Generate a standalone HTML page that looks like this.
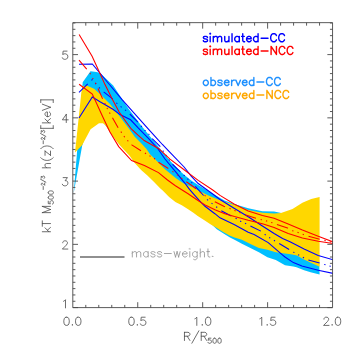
<!DOCTYPE html>
<html><head><meta charset="utf-8"><title>plot</title><style>html,body{margin:0;padding:0;background:#fff;font-family:"Liberation Sans",sans-serif}svg{display:block}</style></head><body>
<svg width="354" height="354" viewBox="0 0 354 354">
<rect width="354" height="354" fill="#fff"/>
<defs><clipPath id="c"><rect x="72.8" y="22.6" width="260.1" height="285.0"/></clipPath></defs>
<g clip-path="url(#c)">
<polygon points="82.7,82.3 90.5,71.3 96.5,72.0 100.0,73.0 113.2,85.5 128.5,108.7 141.2,125.6 149.7,136.0 159.5,148.0 170.0,160.8 178.5,169.8 184.1,174.7 191.2,180.4 198.2,185.0 212.4,193.6 224.5,200.6 235.0,204.3 248.2,208.3 262.4,211.3 274.1,211.4 281.2,212.9 300.0,235.0 319.1,260.0 319.6,274.6 310.6,272.3 304.1,270.2 296.5,267.3 293.4,266.5 285.0,265.2 275.8,259.9 267.4,257.2 258.9,252.3 250.4,248.0 241.9,243.8 234.5,239.8 230.0,237.4 223.1,233.2 216.8,229.2 212.3,225.0 200.0,212.0 180.0,200.0 150.0,172.0 120.0,145.0 100.0,118.0 90.0,122.0 82.2,145.5 73.7,193.0" fill="#00bfff"/>
<polygon points="81.3,93.0 82.4,86.0 86.7,85.4 94.0,88.7 100.0,94.0 110.0,104.0 119.0,115.5 128.5,128.0 134.5,136.5 140.0,142.0 146.5,149.0 150.0,154.2 158.3,162.6 165.0,169.3 176.3,178.5 184.2,183.8 192.0,187.1 200.5,191.6 209.0,195.8 217.4,199.3 224.8,201.8 234.7,205.0 248.2,209.9 262.4,212.8 274.1,213.6 281.0,212.9 292.5,209.1 302.4,202.7 311.2,199.1 319.6,197.0 319.6,266.7 311.0,262.8 304.0,259.5 297.0,255.5 290.8,254.3 285.0,253.4 275.8,252.2 267.4,249.7 258.9,247.9 250.4,243.9 241.9,239.8 234.5,237.6 230.0,235.7 223.1,231.9 216.8,228.0 210.4,224.2 204.0,220.0 197.7,216.0 193.0,212.6 188.1,209.3 181.8,205.3 175.4,201.9 169.1,196.9 162.7,190.6 160.1,188.3 153.8,181.7 147.4,175.5 141.1,170.0 134.7,163.0 131.5,158.4 129.8,156.1 123.4,149.2 117.1,142.1 110.7,133.2 105.6,125.6 103.0,123.3 99.0,123.2 90.6,129.3 82.1,145.3 75.0,152.4" fill="#ffd700"/>
<polyline points="79.0,64.3 92.3,64.0 109.0,84.0 122.1,99.6 134.1,113.2 148.2,128.9 155.0,136.4 162.4,144.5 170.0,152.3 184.1,167.0 191.2,176.1 198.2,183.5 212.4,193.8 220.0,199.5 234.1,208.3 248.2,216.8 262.4,226.0 274.1,233.5 282.6,238.5 290.0,241.8 304.1,249.0 318.2,255.4 333.4,259.9" fill="none" stroke="#0000ff" stroke-width="1.08"/>
<polyline points="79.0,118.0 92.3,97.0 100.0,101.8 112.9,109.2 120.0,114.6 130.6,119.8 138.4,128.2 148.2,138.1 158.0,149.0 165.0,159.0 176.3,172.7 184.2,182.3 189.5,189.4 195.0,195.6 199.4,200.7 205.0,206.3 214.9,213.7 220.0,217.8 234.1,224.5 248.2,232.3 254.1,234.5 268.2,242.6 282.4,254.8 285.0,257.0 293.4,262.6 301.9,266.0 318.2,270.2 333.4,273.5" fill="none" stroke="#0000ff" stroke-width="1.08"/>
<path d="M79.00 92.40 L87.76 83.90 M91.45 80.33 L92.30 79.50 L92.37 79.59 M95.20 83.07 L96.03 84.08 M98.99 87.43 L99.94 88.32 M103.70 91.82 L104.00 92.10 L111.40 97.90 L112.83 99.33 M116.35 102.84 L117.34 103.68 M120.63 106.46 L120.80 106.60 L121.66 107.26 M125.08 109.88 L125.50 110.20 L126.08 110.71 M129.80 114.00 L137.96 122.16 M140.99 125.90 L141.85 126.87 M144.61 130.00 L144.70 130.10 L145.53 130.91 M148.51 133.83 L149.00 134.30 L149.37 134.80 M152.20 138.70 L160.30 146.60 L160.31 146.61 M162.82 150.61 L163.00 150.90 L163.54 151.68 M165.86 155.03 L166.60 156.10 M168.92 159.44 L169.66 160.51 M172.50 164.26 L180.48 171.80 M183.72 175.02 L184.20 175.50 L184.63 175.93 M187.40 178.70 L187.60 178.90 L188.38 179.54 M191.35 182.08 L192.23 183.04 M195.30 186.40 L203.62 195.50 M207.12 199.34 L208.00 200.30 M211.56 203.13 L212.40 203.80 L212.57 203.94 M216.16 206.73 L216.90 207.30 L217.19 207.52 M221.30 210.70 L228.80 214.70 L231.34 216.01 M235.55 218.17 L236.20 218.50 L236.69 218.80 M240.17 220.95 L240.90 221.40 L241.30 221.58 M245.01 223.30 L246.10 223.80 L246.18 223.84 M250.40 226.00 L260.88 231.14 M264.66 234.22 L265.00 234.50 L265.71 234.99 M269.18 237.41 L269.60 237.70 L270.28 238.11 M273.90 240.29 L275.02 240.96 M279.20 243.48 L289.13 249.46 M293.28 251.96 L293.50 252.10 L294.41 252.61 M298.07 254.66 L298.50 254.90 L299.20 255.28 M302.88 257.30 L303.80 257.80 L304.03 257.91 M308.40 260.00 L319.59 263.07 M324.25 264.40 L324.60 264.50 L325.50 264.77 M329.52 265.97 L330.30 266.20 L330.77 266.34" fill="none" stroke="#0000ff" stroke-width="1.08"/>
<polyline points="79.1,34.5 92.1,56.2 100.0,73.5 105.0,84.6 108.0,90.6 112.2,99.0 119.0,111.8 125.6,121.2 131.3,129.0 138.0,135.2 144.2,140.6 150.0,143.7 158.8,148.7 170.0,159.2 184.1,169.8 198.2,180.4 212.4,189.8 220.0,195.4 234.1,204.0 248.2,211.1 262.4,215.6 274.1,218.2 288.2,223.9 302.4,230.1 318.2,236.3 333.4,242.0" fill="none" stroke="#ff0000" stroke-width="1.08"/>
<polyline points="79.1,84.3 92.3,94.1 101.9,115.0 109.8,131.8 118.7,146.6 131.6,160.5 144.4,165.4 158.5,172.6 167.5,180.0 175.4,185.8 188.1,193.7 199.1,201.2 206.2,205.6 214.9,209.8 224.8,213.7 234.5,216.6 248.2,220.3 262.4,223.8 274.1,227.4 288.2,233.5 302.4,238.0 318.2,241.3 333.4,243.5" fill="none" stroke="#ff0000" stroke-width="1.08"/>
<path d="M79.00 60.20 L86.70 69.10 L86.76 69.17 M89.94 72.98 L90.53 74.14 M92.53 77.97 L93.23 79.07 M95.45 82.77 L95.98 83.96 M98.00 88.50 L102.50 98.60 L102.61 98.82 M104.72 103.03 L104.80 103.20 L105.27 104.21 M107.00 107.88 L107.20 108.30 L107.60 109.04 M109.52 112.61 L110.00 113.50 L110.14 113.75 M112.50 117.83 L112.60 118.00 L118.13 127.78 M120.86 131.68 L121.64 132.72 M123.95 136.14 L124.68 137.22 M127.42 140.29 L128.29 141.26 M131.60 144.69 L131.80 144.90 L140.95 150.68 M144.91 153.06 L146.03 153.71 M149.47 155.70 L150.59 156.35 M154.02 158.34 L154.30 158.50 L155.04 159.15 M158.50 162.20 L168.34 168.57 M172.40 171.34 L173.47 172.08 M176.87 174.65 L177.91 175.43 M181.31 178.00 L182.34 178.78 M186.30 181.69 L187.00 182.20 L193.50 186.80 L196.03 188.79 M199.91 192.04 L200.80 192.80 L200.91 192.87 M204.55 195.36 L205.50 196.00 L205.63 196.08 M209.45 198.29 L210.00 198.60 L210.56 198.97 M214.80 201.73 L214.90 201.80 L223.80 206.30 L225.01 206.74 M229.46 208.37 L230.66 208.88 M234.42 210.48 L234.70 210.60 L235.62 210.98 M239.41 212.54 L240.61 213.03 M245.00 214.83 L255.99 218.30 M260.65 219.51 L261.40 219.70 L261.91 219.83 M265.95 220.88 L266.80 221.10 L267.20 221.22 M271.19 222.43 L272.40 222.80 L272.43 222.81 M276.90 224.60 L287.50 228.10 L287.93 228.32 M292.25 230.57 L292.50 230.70 L293.47 231.00 M297.49 232.27 L297.90 232.40 L298.72 232.71 M302.67 234.19 L303.50 234.50 L303.89 234.63 M308.50 236.20 L319.70 239.21 M324.42 240.35 L325.68 240.65 M329.76 241.66 L331.02 241.98" fill="none" stroke="#ff0000" stroke-width="1.08"/>
</g>
<line x1="80" y1="257" x2="124.5" y2="257" stroke="#909090" stroke-width="1.9"/>
<path d="M72.80 22.65 H332.55 V307.60 H72.80 Z M85.79 307.60 v-2.70 M85.79 22.65 v3.00 M98.78 307.60 v-2.70 M98.78 22.65 v3.00 M111.76 307.60 v-2.70 M111.76 22.65 v3.00 M124.75 307.60 v-2.70 M124.75 22.65 v3.00 M137.74 307.60 v-5.40 M137.74 22.65 v6.00 M150.72 307.60 v-2.70 M150.72 22.65 v3.00 M163.71 307.60 v-2.70 M163.71 22.65 v3.00 M176.70 307.60 v-2.70 M176.70 22.65 v3.00 M189.69 307.60 v-2.70 M189.69 22.65 v3.00 M202.68 307.60 v-5.40 M202.68 22.65 v6.00 M215.66 307.60 v-2.70 M215.66 22.65 v3.00 M228.65 307.60 v-2.70 M228.65 22.65 v3.00 M241.64 307.60 v-2.70 M241.64 22.65 v3.00 M254.62 307.60 v-2.70 M254.62 22.65 v3.00 M267.61 307.60 v-5.40 M267.61 22.65 v6.00 M280.60 307.60 v-2.70 M280.60 22.65 v3.00 M293.59 307.60 v-2.70 M293.59 22.65 v3.00 M306.57 307.60 v-2.70 M306.57 22.65 v3.00 M319.56 307.60 v-2.70 M319.56 22.65 v3.00 M72.80 307.60 h5.20 M332.55 307.60 h-5.20 M72.80 301.28 h2.60 M332.55 301.28 h-2.60 M72.80 294.95 h2.60 M332.55 294.95 h-2.60 M72.80 288.62 h2.60 M332.55 288.62 h-2.60 M72.80 282.30 h2.60 M332.55 282.30 h-2.60 M72.80 275.98 h2.60 M332.55 275.98 h-2.60 M72.80 269.65 h2.60 M332.55 269.65 h-2.60 M72.80 263.33 h2.60 M332.55 263.33 h-2.60 M72.80 257.00 h2.60 M332.55 257.00 h-2.60 M72.80 250.68 h2.60 M332.55 250.68 h-2.60 M72.80 244.35 h5.20 M332.55 244.35 h-5.20 M72.80 238.03 h2.60 M332.55 238.03 h-2.60 M72.80 231.70 h2.60 M332.55 231.70 h-2.60 M72.80 225.38 h2.60 M332.55 225.38 h-2.60 M72.80 219.05 h2.60 M332.55 219.05 h-2.60 M72.80 212.73 h2.60 M332.55 212.73 h-2.60 M72.80 206.40 h2.60 M332.55 206.40 h-2.60 M72.80 200.08 h2.60 M332.55 200.08 h-2.60 M72.80 193.75 h2.60 M332.55 193.75 h-2.60 M72.80 187.43 h2.60 M332.55 187.43 h-2.60 M72.80 181.10 h5.20 M332.55 181.10 h-5.20 M72.80 174.78 h2.60 M332.55 174.78 h-2.60 M72.80 168.45 h2.60 M332.55 168.45 h-2.60 M72.80 162.13 h2.60 M332.55 162.13 h-2.60 M72.80 155.80 h2.60 M332.55 155.80 h-2.60 M72.80 149.48 h2.60 M332.55 149.48 h-2.60 M72.80 143.15 h2.60 M332.55 143.15 h-2.60 M72.80 136.83 h2.60 M332.55 136.83 h-2.60 M72.80 130.50 h2.60 M332.55 130.50 h-2.60 M72.80 124.18 h2.60 M332.55 124.18 h-2.60 M72.80 117.85 h5.20 M332.55 117.85 h-5.20 M72.80 111.53 h2.60 M332.55 111.53 h-2.60 M72.80 105.20 h2.60 M332.55 105.20 h-2.60 M72.80 98.88 h2.60 M332.55 98.88 h-2.60 M72.80 92.55 h2.60 M332.55 92.55 h-2.60 M72.80 86.23 h2.60 M332.55 86.23 h-2.60 M72.80 79.90 h2.60 M332.55 79.90 h-2.60 M72.80 73.58 h2.60 M332.55 73.58 h-2.60 M72.80 67.25 h2.60 M332.55 67.25 h-2.60 M72.80 60.93 h2.60 M332.55 60.93 h-2.60 M72.80 54.60 h5.20 M332.55 54.60 h-5.20 M72.80 48.28 h2.60 M332.55 48.28 h-2.60 M72.80 41.95 h2.60 M332.55 41.95 h-2.60 M72.80 35.63 h2.60 M332.55 35.63 h-2.60 M72.80 29.30 h2.60 M332.55 29.30 h-2.60 M72.80 22.98 h2.60 M332.55 22.98 h-2.60" fill="none" stroke="#484848" stroke-width="0.9"/>
<path d="M66.16 317.21 L64.99 317.60 L64.21 318.77 L63.82 320.72 L63.82 321.89 L64.21 323.84 L64.99 325.01 L66.16 325.40 L66.94 325.40 L68.11 325.01 L68.89 323.84 L69.28 321.89 L69.28 320.72 L68.89 318.77 L68.11 317.60 L66.94 317.21 L66.16 317.21 M72.40 324.62 L72.01 325.01 L72.40 325.40 L72.79 325.01 L72.40 324.62 M77.86 317.21 L76.69 317.60 L75.91 318.77 L75.52 320.72 L75.52 321.89 L75.91 323.84 L76.69 325.01 L77.86 325.40 L78.64 325.40 L79.81 325.01 L80.59 323.84 L80.98 321.89 L80.98 320.72 L80.59 318.77 L79.81 317.60 L78.64 317.21 L77.86 317.21 M131.10 317.21 L129.93 317.60 L129.15 318.77 L128.76 320.72 L128.76 321.89 L129.15 323.84 L129.93 325.01 L131.10 325.40 L131.88 325.40 L133.05 325.01 L133.83 323.84 L134.22 321.89 L134.22 320.72 L133.83 318.77 L133.05 317.60 L131.88 317.21 L131.10 317.21 M137.34 324.62 L136.95 325.01 L137.34 325.40 L137.73 325.01 L137.34 324.62 M145.14 317.21 L141.24 317.21 L140.85 320.72 L141.24 320.33 L142.41 319.94 L143.58 319.94 L144.75 320.33 L145.53 321.11 L145.92 322.28 L145.92 323.06 L145.53 324.23 L144.75 325.01 L143.58 325.40 L142.41 325.40 L141.24 325.01 L140.85 324.62 L140.46 323.84 M194.87 318.77 L195.65 318.38 L196.81 317.21 L196.81 325.40 M202.28 324.62 L201.89 325.01 L202.28 325.40 L202.67 325.01 L202.28 324.62 M207.74 317.21 L206.57 317.60 L205.79 318.77 L205.40 320.72 L205.40 321.89 L205.79 323.84 L206.57 325.01 L207.74 325.40 L208.52 325.40 L209.69 325.01 L210.47 323.84 L210.86 321.89 L210.86 320.72 L210.47 318.77 L209.69 317.60 L208.52 317.21 L207.74 317.21 M259.80 318.77 L260.58 318.38 L261.75 317.21 L261.75 325.40 M267.21 324.62 L266.82 325.01 L267.21 325.40 L267.60 325.01 L267.21 324.62 M275.01 317.21 L271.11 317.21 L270.72 320.72 L271.11 320.33 L272.28 319.94 L273.45 319.94 L274.62 320.33 L275.40 321.11 L275.79 322.28 L275.79 323.06 L275.40 324.23 L274.62 325.01 L273.45 325.40 L272.28 325.40 L271.11 325.01 L270.72 324.62 L270.33 323.84 M323.96 319.16 L323.96 318.77 L324.35 317.99 L324.74 317.60 L325.52 317.21 L327.08 317.21 L327.86 317.60 L328.25 317.99 L328.64 318.77 L328.64 319.55 L328.25 320.33 L327.47 321.50 L323.57 325.40 L329.03 325.40 M332.15 324.62 L331.76 325.01 L332.15 325.40 L332.54 325.01 L332.15 324.62 M337.61 317.21 L336.44 317.60 L335.66 318.77 L335.27 320.72 L335.27 321.89 L335.66 323.84 L336.44 325.01 L337.61 325.40 L338.39 325.40 L339.56 325.01 L340.34 323.84 L340.73 321.89 L340.73 320.72 L340.34 318.77 L339.56 317.60 L338.39 317.21 L337.61 317.21 M63.54 301.27 L64.32 300.88 L65.49 299.71 L65.49 307.90 M62.76 242.81 L62.76 242.42 L63.15 241.64 L63.54 241.25 L64.32 240.86 L65.88 240.86 L66.66 241.25 L67.05 241.64 L67.44 242.42 L67.44 243.20 L67.05 243.98 L66.27 245.15 L62.37 249.05 L67.83 249.05 M63.15 177.61 L67.44 177.61 L65.10 180.73 L66.27 180.73 L67.05 181.12 L67.44 181.51 L67.83 182.68 L67.83 183.46 L67.44 184.63 L66.66 185.41 L65.49 185.80 L64.32 185.80 L63.15 185.41 L62.76 185.02 L62.37 184.24 M66.27 114.36 L62.37 119.82 L68.22 119.82 M66.27 114.36 L66.27 122.55 M67.05 51.11 L63.15 51.11 L62.76 54.62 L63.15 54.23 L64.32 53.84 L65.49 53.84 L66.66 54.23 L67.44 55.01 L67.83 56.18 L67.83 56.96 L67.44 58.13 L66.66 58.91 L65.49 59.30 L64.32 59.30 L63.15 58.91 L62.76 58.52 L62.37 57.74 M184.46 332.31 L184.46 340.50 M184.46 332.31 L187.97 332.31 L189.14 332.70 L189.53 333.09 L189.92 333.87 L189.92 334.65 L189.53 335.43 L189.14 335.82 L187.97 336.21 L184.46 336.21 M187.19 336.21 L189.92 340.50 M198.89 330.75 L191.87 343.23 M201.23 332.31 L201.23 340.50 M201.23 332.31 L204.74 332.31 L205.91 332.70 L206.30 333.09 L206.69 333.87 L206.69 334.65 L206.30 335.43 L205.91 335.82 L204.74 336.21 L201.23 336.21 M203.96 336.21 L206.69 340.50 M210.94 338.16 L208.49 338.16 L208.24 340.36 L208.49 340.12 L209.22 339.87 L209.96 339.87 L210.69 340.12 L211.18 340.61 L211.43 341.34 L211.43 341.83 L211.18 342.56 L210.69 343.06 L209.96 343.30 L209.22 343.30 L208.49 343.06 L208.24 342.81 L208.00 342.32 M214.37 338.16 L213.63 338.40 L213.14 339.13 L212.90 340.36 L212.90 341.10 L213.14 342.32 L213.63 343.06 L214.37 343.30 L214.86 343.30 L215.59 343.06 L216.08 342.32 L216.33 341.10 L216.33 340.36 L216.08 339.13 L215.59 338.40 L214.86 338.16 L214.37 338.16 M219.27 338.16 L218.53 338.40 L218.04 339.13 L217.80 340.36 L217.80 341.10 L218.04 342.32 L218.53 343.06 L219.27 343.30 L219.76 343.30 L220.49 343.06 L220.98 342.32 L221.23 341.10 L221.23 340.36 L220.98 339.13 L220.49 338.40 L219.76 338.16 L219.27 338.16" fill="none" stroke="#484848" stroke-width="0.8" stroke-linecap="round" stroke-linejoin="round"/>
<g transform="rotate(-90)"><path d="M-231.74 42.31 L-231.74 50.50 M-227.84 45.04 L-231.74 48.94 M-230.18 47.38 L-227.45 50.50 M-223.55 42.31 L-223.55 50.50 M-226.28 42.31 L-220.82 42.31 M-212.63 42.31 L-212.63 50.50 M-212.63 42.31 L-209.51 50.50 M-206.39 42.31 L-209.51 50.50 M-206.39 42.31 L-206.39 50.50 M-201.15 48.25 L-203.60 48.25 L-203.85 50.46 L-203.60 50.21 L-202.87 49.97 L-202.13 49.97 L-201.40 50.21 L-200.91 50.70 L-200.66 51.44 L-200.66 51.93 L-200.91 52.66 L-201.40 53.16 L-202.13 53.40 L-202.87 53.40 L-203.60 53.16 L-203.85 52.91 L-204.09 52.42 M-197.72 48.25 L-198.46 48.50 L-198.95 49.23 L-199.19 50.46 L-199.19 51.20 L-198.95 52.42 L-198.46 53.16 L-197.72 53.40 L-197.23 53.40 L-196.50 53.16 L-196.01 52.42 L-195.76 51.20 L-195.76 50.46 L-196.01 49.23 L-196.50 48.50 L-197.23 48.25 L-197.72 48.25 M-192.82 48.25 L-193.56 48.50 L-194.05 49.23 L-194.29 50.46 L-194.29 51.20 L-194.05 52.42 L-193.56 53.16 L-192.82 53.40 L-192.33 53.40 L-191.60 53.16 L-191.11 52.42 L-190.86 51.20 L-190.86 50.46 L-191.11 49.23 L-191.60 48.50 L-192.33 48.25 L-192.82 48.25 M-189.47 43.22 L-186.50 43.22 M-185.18 42.06 L-185.18 41.90 L-185.01 41.57 L-184.85 41.40 L-184.52 41.23 L-183.86 41.23 L-183.53 41.40 L-183.36 41.57 L-183.20 41.90 L-183.20 42.23 L-183.36 42.55 L-183.69 43.05 L-185.34 44.70 L-183.03 44.70 M-179.24 40.58 L-182.21 45.86 M-178.08 41.23 L-176.27 41.23 L-177.26 42.55 L-176.76 42.55 L-176.43 42.72 L-176.27 42.89 L-176.10 43.38 L-176.10 43.71 L-176.27 44.21 L-176.60 44.54 L-177.09 44.70 L-177.59 44.70 L-178.08 44.54 L-178.25 44.37 L-178.41 44.04 M-167.81 42.31 L-167.81 50.50 M-167.81 46.60 L-166.64 45.43 L-165.86 45.04 L-164.69 45.04 L-163.91 45.43 L-163.52 46.60 L-163.52 50.50 M-157.67 40.75 L-158.45 41.53 L-159.23 42.70 L-160.01 44.26 L-160.40 46.21 L-160.40 47.77 L-160.01 49.72 L-159.23 51.28 L-158.45 52.45 L-157.67 53.23 M-151.04 45.04 L-155.33 50.50 M-155.33 45.04 L-151.04 45.04 M-155.33 50.50 L-151.04 50.50 M-148.70 40.75 L-147.92 41.53 L-147.14 42.70 L-146.36 44.26 L-145.97 46.21 L-145.97 47.77 L-146.36 49.72 L-147.14 51.28 L-147.92 52.45 L-148.70 53.23 M-143.75 43.22 L-140.78 43.22 M-139.46 42.06 L-139.46 41.90 L-139.29 41.57 L-139.13 41.40 L-138.80 41.23 L-138.14 41.23 L-137.81 41.40 L-137.64 41.57 L-137.48 41.90 L-137.48 42.23 L-137.64 42.55 L-137.97 43.05 L-139.62 44.70 L-137.31 44.70 M-133.52 40.58 L-136.49 45.86 M-132.36 41.23 L-130.55 41.23 L-131.54 42.55 L-131.04 42.55 L-130.71 42.72 L-130.55 42.89 L-130.38 43.38 L-130.38 43.71 L-130.55 44.21 L-130.88 44.54 L-131.37 44.70 L-131.87 44.70 L-132.36 44.54 L-132.53 44.37 L-132.69 44.04 M-128.33 40.75 L-128.33 53.23 M-128.33 40.75 L-125.60 40.75 M-128.33 53.23 L-125.60 53.23 M-122.87 42.31 L-122.87 50.50 M-118.97 45.04 L-122.87 48.94 M-121.31 47.38 L-118.58 50.50 M-116.63 47.38 L-111.95 47.38 L-111.95 46.60 L-112.34 45.82 L-112.73 45.43 L-113.51 45.04 L-114.68 45.04 L-115.46 45.43 L-116.24 46.21 L-116.63 47.38 L-116.63 48.16 L-116.24 49.33 L-115.46 50.11 L-114.68 50.50 L-113.51 50.50 L-112.73 50.11 L-111.95 49.33 M-110.39 42.31 L-107.27 50.50 M-104.15 42.31 L-107.27 50.50 M-99.86 40.75 L-99.86 53.23 M-102.59 40.75 L-99.86 40.75 M-102.59 53.23 L-99.86 53.23" fill="none" stroke="#484848" stroke-width="0.8" stroke-linecap="round" stroke-linejoin="round"/></g>
<path d="M207.51 37.54 L207.13 36.77 L205.98 36.39 L204.83 36.39 L203.68 36.77 L203.30 37.54 L203.68 38.30 L204.45 38.69 L206.36 39.07 L207.13 39.45 L207.51 40.22 L207.51 40.60 L207.13 41.37 L205.98 41.75 L204.83 41.75 L203.68 41.37 L203.30 40.60 M209.81 33.71 L210.19 34.09 L210.58 33.71 L210.19 33.32 L209.81 33.71 M210.19 36.39 L210.19 41.75 M213.26 36.39 L213.26 41.75 M213.26 37.92 L214.41 36.77 L215.17 36.39 L216.32 36.39 L217.09 36.77 L217.47 37.92 L217.47 41.75 M217.47 37.92 L218.62 36.77 L219.39 36.39 L220.53 36.39 L221.30 36.77 L221.68 37.92 L221.68 41.75 M224.75 36.39 L224.75 40.22 L225.13 41.37 L225.90 41.75 L227.05 41.75 L227.81 41.37 L228.96 40.22 M228.96 36.39 L228.96 41.75 M232.02 33.71 L232.02 41.75 M239.30 36.39 L239.30 41.75 M239.30 37.54 L238.54 36.77 L237.77 36.39 L236.62 36.39 L235.85 36.77 L235.09 37.54 L234.71 38.69 L234.71 39.45 L235.09 40.60 L235.85 41.37 L236.62 41.75 L237.77 41.75 L238.54 41.37 L239.30 40.60 M242.75 33.71 L242.75 40.22 L243.13 41.37 L243.90 41.75 L244.66 41.75 M241.60 36.39 L244.28 36.39 M246.58 38.69 L251.17 38.69 L251.17 37.92 L250.79 37.15 L250.41 36.77 L249.64 36.39 L248.49 36.39 L247.73 36.77 L246.96 37.54 L246.58 38.69 L246.58 39.45 L246.96 40.60 L247.73 41.37 L248.49 41.75 L249.64 41.75 L250.41 41.37 L251.17 40.60 M258.07 33.71 L258.07 41.75 M258.07 37.54 L257.30 36.77 L256.54 36.39 L255.39 36.39 L254.62 36.77 L253.86 37.54 L253.47 38.69 L253.47 39.45 L253.86 40.60 L254.62 41.37 L255.39 41.75 L256.54 41.75 L257.30 41.37 L258.07 40.60 M261.13 38.30 L268.03 38.30 M276.45 35.62 L276.07 34.86 L275.30 34.09 L274.54 33.71 L273.01 33.71 L272.24 34.09 L271.47 34.86 L271.09 35.62 L270.71 36.77 L270.71 38.69 L271.09 39.84 L271.47 40.60 L272.24 41.37 L273.01 41.75 L274.54 41.75 L275.30 41.37 L276.07 40.60 L276.45 39.84 M284.50 35.62 L284.11 34.86 L283.35 34.09 L282.58 33.71 L281.05 33.71 L280.28 34.09 L279.52 34.86 L279.13 35.62 L278.75 36.77 L278.75 38.69 L279.13 39.84 L279.52 40.60 L280.28 41.37 L281.05 41.75 L282.58 41.75 L283.35 41.37 L284.11 40.60 L284.50 39.84" fill="none" stroke="#0000ff" stroke-width="1.4" stroke-linecap="round" stroke-linejoin="round"/>
<path d="M207.51 50.24 L207.13 49.47 L205.98 49.09 L204.83 49.09 L203.68 49.47 L203.30 50.24 L203.68 51.00 L204.45 51.39 L206.36 51.77 L207.13 52.15 L207.51 52.92 L207.51 53.30 L207.13 54.07 L205.98 54.45 L204.83 54.45 L203.68 54.07 L203.30 53.30 M209.81 46.41 L210.19 46.79 L210.58 46.41 L210.19 46.02 L209.81 46.41 M210.19 49.09 L210.19 54.45 M213.26 49.09 L213.26 54.45 M213.26 50.62 L214.41 49.47 L215.17 49.09 L216.32 49.09 L217.09 49.47 L217.47 50.62 L217.47 54.45 M217.47 50.62 L218.62 49.47 L219.39 49.09 L220.53 49.09 L221.30 49.47 L221.68 50.62 L221.68 54.45 M224.75 49.09 L224.75 52.92 L225.13 54.07 L225.90 54.45 L227.05 54.45 L227.81 54.07 L228.96 52.92 M228.96 49.09 L228.96 54.45 M232.02 46.41 L232.02 54.45 M239.30 49.09 L239.30 54.45 M239.30 50.24 L238.54 49.47 L237.77 49.09 L236.62 49.09 L235.85 49.47 L235.09 50.24 L234.71 51.39 L234.71 52.15 L235.09 53.30 L235.85 54.07 L236.62 54.45 L237.77 54.45 L238.54 54.07 L239.30 53.30 M242.75 46.41 L242.75 52.92 L243.13 54.07 L243.90 54.45 L244.66 54.45 M241.60 49.09 L244.28 49.09 M246.58 51.39 L251.17 51.39 L251.17 50.62 L250.79 49.85 L250.41 49.47 L249.64 49.09 L248.49 49.09 L247.73 49.47 L246.96 50.24 L246.58 51.39 L246.58 52.15 L246.96 53.30 L247.73 54.07 L248.49 54.45 L249.64 54.45 L250.41 54.07 L251.17 53.30 M258.07 46.41 L258.07 54.45 M258.07 50.24 L257.30 49.47 L256.54 49.09 L255.39 49.09 L254.62 49.47 L253.86 50.24 L253.47 51.39 L253.47 52.15 L253.86 53.30 L254.62 54.07 L255.39 54.45 L256.54 54.45 L257.30 54.07 L258.07 53.30 M261.13 51.00 L268.03 51.00 M271.09 46.41 L271.09 54.45 M271.09 46.41 L276.45 54.45 M276.45 46.41 L276.45 54.45 M284.88 48.32 L284.50 47.56 L283.73 46.79 L282.96 46.41 L281.43 46.41 L280.67 46.79 L279.90 47.56 L279.52 48.32 L279.13 49.47 L279.13 51.39 L279.52 52.54 L279.90 53.30 L280.67 54.07 L281.43 54.45 L282.96 54.45 L283.73 54.07 L284.50 53.30 L284.88 52.54 M292.92 48.32 L292.54 47.56 L291.77 46.79 L291.01 46.41 L289.47 46.41 L288.71 46.79 L287.94 47.56 L287.56 48.32 L287.18 49.47 L287.18 51.39 L287.56 52.54 L287.94 53.30 L288.71 54.07 L289.47 54.45 L291.01 54.45 L291.77 54.07 L292.54 53.30 L292.92 52.54" fill="none" stroke="#ff0000" stroke-width="1.4" stroke-linecap="round" stroke-linejoin="round"/>
<path d="M205.21 80.14 L204.45 80.52 L203.68 81.29 L203.30 82.44 L203.30 83.20 L203.68 84.35 L204.45 85.12 L205.21 85.50 L206.36 85.50 L207.13 85.12 L207.90 84.35 L208.28 83.20 L208.28 82.44 L207.90 81.29 L207.13 80.52 L206.36 80.14 L205.21 80.14 M210.96 77.46 L210.96 85.50 M210.96 81.29 L211.73 80.52 L212.49 80.14 L213.64 80.14 L214.41 80.52 L215.17 81.29 L215.56 82.44 L215.56 83.20 L215.17 84.35 L214.41 85.12 L213.64 85.50 L212.49 85.50 L211.73 85.12 L210.96 84.35 M222.07 81.29 L221.68 80.52 L220.53 80.14 L219.39 80.14 L218.24 80.52 L217.85 81.29 L218.24 82.05 L219.00 82.44 L220.92 82.82 L221.68 83.20 L222.07 83.97 L222.07 84.35 L221.68 85.12 L220.53 85.50 L219.39 85.50 L218.24 85.12 L217.85 84.35 M224.36 82.44 L228.96 82.44 L228.96 81.67 L228.58 80.90 L228.19 80.52 L227.43 80.14 L226.28 80.14 L225.51 80.52 L224.75 81.29 L224.36 82.44 L224.36 83.20 L224.75 84.35 L225.51 85.12 L226.28 85.50 L227.43 85.50 L228.19 85.12 L228.96 84.35 M231.64 80.14 L231.64 85.50 M231.64 82.44 L232.02 81.29 L232.79 80.52 L233.56 80.14 L234.71 80.14 M235.85 80.14 L238.15 85.50 M240.45 80.14 L238.15 85.50 M242.37 82.44 L246.96 82.44 L246.96 81.67 L246.58 80.90 L246.20 80.52 L245.43 80.14 L244.28 80.14 L243.51 80.52 L242.75 81.29 L242.37 82.44 L242.37 83.20 L242.75 84.35 L243.51 85.12 L244.28 85.50 L245.43 85.50 L246.20 85.12 L246.96 84.35 M253.86 77.46 L253.86 85.50 M253.86 81.29 L253.09 80.52 L252.32 80.14 L251.17 80.14 L250.41 80.52 L249.64 81.29 L249.26 82.44 L249.26 83.20 L249.64 84.35 L250.41 85.12 L251.17 85.50 L252.32 85.50 L253.09 85.12 L253.86 84.35 M256.92 82.05 L263.81 82.05 M272.24 79.37 L271.86 78.61 L271.09 77.84 L270.32 77.46 L268.79 77.46 L268.03 77.84 L267.26 78.61 L266.88 79.37 L266.50 80.52 L266.50 82.44 L266.88 83.58 L267.26 84.35 L268.03 85.12 L268.79 85.50 L270.32 85.50 L271.09 85.12 L271.86 84.35 L272.24 83.58 M280.28 79.37 L279.90 78.61 L279.13 77.84 L278.37 77.46 L276.84 77.46 L276.07 77.84 L275.30 78.61 L274.92 79.37 L274.54 80.52 L274.54 82.44 L274.92 83.58 L275.30 84.35 L276.07 85.12 L276.84 85.50 L278.37 85.50 L279.13 85.12 L279.90 84.35 L280.28 83.58" fill="none" stroke="#1e90ff" stroke-width="1.4" stroke-linecap="round" stroke-linejoin="round"/>
<path d="M205.21 93.14 L204.45 93.52 L203.68 94.29 L203.30 95.44 L203.30 96.20 L203.68 97.35 L204.45 98.12 L205.21 98.50 L206.36 98.50 L207.13 98.12 L207.90 97.35 L208.28 96.20 L208.28 95.44 L207.90 94.29 L207.13 93.52 L206.36 93.14 L205.21 93.14 M210.96 90.46 L210.96 98.50 M210.96 94.29 L211.73 93.52 L212.49 93.14 L213.64 93.14 L214.41 93.52 L215.17 94.29 L215.56 95.44 L215.56 96.20 L215.17 97.35 L214.41 98.12 L213.64 98.50 L212.49 98.50 L211.73 98.12 L210.96 97.35 M222.07 94.29 L221.68 93.52 L220.53 93.14 L219.39 93.14 L218.24 93.52 L217.85 94.29 L218.24 95.05 L219.00 95.44 L220.92 95.82 L221.68 96.20 L222.07 96.97 L222.07 97.35 L221.68 98.12 L220.53 98.50 L219.39 98.50 L218.24 98.12 L217.85 97.35 M224.36 95.44 L228.96 95.44 L228.96 94.67 L228.58 93.90 L228.19 93.52 L227.43 93.14 L226.28 93.14 L225.51 93.52 L224.75 94.29 L224.36 95.44 L224.36 96.20 L224.75 97.35 L225.51 98.12 L226.28 98.50 L227.43 98.50 L228.19 98.12 L228.96 97.35 M231.64 93.14 L231.64 98.50 M231.64 95.44 L232.02 94.29 L232.79 93.52 L233.56 93.14 L234.71 93.14 M235.85 93.14 L238.15 98.50 M240.45 93.14 L238.15 98.50 M242.37 95.44 L246.96 95.44 L246.96 94.67 L246.58 93.90 L246.20 93.52 L245.43 93.14 L244.28 93.14 L243.51 93.52 L242.75 94.29 L242.37 95.44 L242.37 96.20 L242.75 97.35 L243.51 98.12 L244.28 98.50 L245.43 98.50 L246.20 98.12 L246.96 97.35 M253.86 90.46 L253.86 98.50 M253.86 94.29 L253.09 93.52 L252.32 93.14 L251.17 93.14 L250.41 93.52 L249.64 94.29 L249.26 95.44 L249.26 96.20 L249.64 97.35 L250.41 98.12 L251.17 98.50 L252.32 98.50 L253.09 98.12 L253.86 97.35 M256.92 95.05 L263.81 95.05 M266.88 90.46 L266.88 98.50 M266.88 90.46 L272.24 98.50 M272.24 90.46 L272.24 98.50 M280.67 92.37 L280.28 91.61 L279.52 90.84 L278.75 90.46 L277.22 90.46 L276.45 90.84 L275.69 91.61 L275.30 92.37 L274.92 93.52 L274.92 95.44 L275.30 96.58 L275.69 97.35 L276.45 98.12 L277.22 98.50 L278.75 98.50 L279.52 98.12 L280.28 97.35 L280.67 96.58 M288.71 92.37 L288.33 91.61 L287.56 90.84 L286.79 90.46 L285.26 90.46 L284.50 90.84 L283.73 91.61 L283.35 92.37 L282.96 93.52 L282.96 95.44 L283.35 96.58 L283.73 97.35 L284.50 98.12 L285.26 98.50 L286.79 98.50 L287.56 98.12 L288.33 97.35 L288.71 96.58" fill="none" stroke="#ffa800" stroke-width="1.4" stroke-linecap="round" stroke-linejoin="round"/>
<path d="M132.30 251.60 L132.30 257.00 M132.30 253.14 L133.46 251.98 L134.23 251.60 L135.39 251.60 L136.16 251.98 L136.55 253.14 L136.55 257.00 M136.55 253.14 L137.70 251.98 L138.48 251.60 L139.63 251.60 L140.41 251.98 L140.79 253.14 L140.79 257.00 M148.13 251.60 L148.13 257.00 M148.13 252.75 L147.35 251.98 L146.58 251.60 L145.42 251.60 L144.65 251.98 L143.88 252.75 L143.49 253.91 L143.49 254.68 L143.88 255.84 L144.65 256.61 L145.42 257.00 L146.58 257.00 L147.35 256.61 L148.13 255.84 M155.07 252.75 L154.69 251.98 L153.53 251.60 L152.37 251.60 L151.21 251.98 L150.83 252.75 L151.21 253.53 L151.99 253.91 L153.92 254.30 L154.69 254.68 L155.07 255.46 L155.07 255.84 L154.69 256.61 L153.53 257.00 L152.37 257.00 L151.21 256.61 L150.83 255.84 M161.64 252.75 L161.25 251.98 L160.09 251.60 L158.93 251.60 L157.78 251.98 L157.39 252.75 L157.78 253.53 L158.55 253.91 L160.48 254.30 L161.25 254.68 L161.64 255.46 L161.64 255.84 L161.25 256.61 L160.09 257.00 L158.93 257.00 L157.78 256.61 L157.39 255.84 M164.34 253.53 L171.29 253.53 M173.99 251.60 L175.53 257.00 M177.08 251.60 L175.53 257.00 M177.08 251.60 L178.62 257.00 M180.16 251.60 L178.62 257.00 M182.48 253.91 L187.11 253.91 L187.11 253.14 L186.73 252.37 L186.34 251.98 L185.57 251.60 L184.41 251.60 L183.64 251.98 L182.87 252.75 L182.48 253.91 L182.48 254.68 L182.87 255.84 L183.64 256.61 L184.41 257.00 L185.57 257.00 L186.34 256.61 L187.11 255.84 M189.43 248.89 L189.81 249.28 L190.20 248.89 L189.81 248.51 L189.43 248.89 M189.81 251.60 L189.81 257.00 M197.15 251.60 L197.15 257.77 L196.76 258.93 L196.38 259.32 L195.60 259.70 L194.45 259.70 L193.67 259.32 M197.15 252.75 L196.38 251.98 L195.60 251.60 L194.45 251.60 L193.67 251.98 L192.90 252.75 L192.52 253.91 L192.52 254.68 L192.90 255.84 L193.67 256.61 L194.45 257.00 L195.60 257.00 L196.38 256.61 L197.15 255.84 M200.24 248.89 L200.24 257.00 M200.24 253.14 L201.39 251.98 L202.17 251.60 L203.32 251.60 L204.10 251.98 L204.48 253.14 L204.48 257.00 M207.96 248.89 L207.96 255.46 L208.34 256.61 L209.11 257.00 L209.89 257.00 M206.80 251.60 L209.50 251.60 M212.59 256.23 L212.20 256.61 L212.59 257.00 L212.97 256.61 L212.59 256.23" fill="none" stroke="#8c8c8c" stroke-width="0.8" stroke-linecap="round" stroke-linejoin="round"/>
</svg>
</body></html>
